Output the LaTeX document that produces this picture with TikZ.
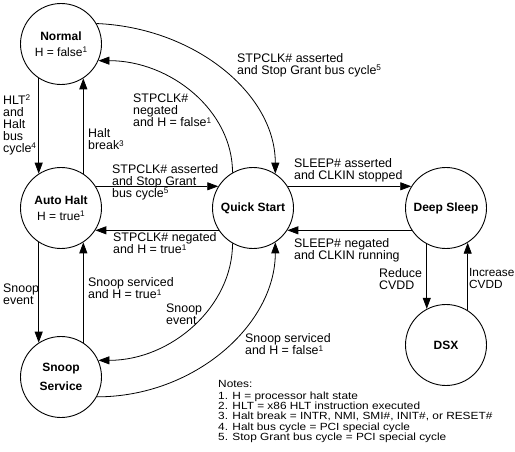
\documentclass[tikz,border=0pt]{standalone}
\usepackage{fontspec}
\setmainfont{Liberation Sans}
\newfontfamily\notefont{Liberation Sans}[FakeStretch=1.14]
\usetikzlibrary{arrows.meta}
\definecolor{ink}{HTML}{000000}
\definecolor{paper}{HTML}{FFFFFF}
\newcommand{\fnum}[1]{\raisebox{3.6pt}{\fontsize{8.2}{8.2}\selectfont#1}}

\begin{document}
\begin{tikzpicture}[x=1pt, y=-1pt, >={Triangle[length=11pt, width=8pt]},
  stnode/.style={circle, draw=ink, line width=0.9pt, minimum size=81pt, inner sep=0pt,
    align=center, font=\fontsize{12}{16}\selectfont},
  lbl/.style={anchor=north west, inner sep=0pt, align=left, text=ink,
    font=\fontsize{12.4}{12}\selectfont},
  link/.style={draw=ink, line width=0.8pt, ->}]

% Background
\fill[paper] (0,0) rectangle (515,452);
\useasboundingbox (0,0) rectangle (515,452);

% States
\node[stnode] (normal) at (61,44) {\textbf{Normal}\\H = false\fnum{1}};
\node[stnode] (autohalt) at (61,208) {\textbf{Auto Halt}\\H = true\fnum{1}};
\node[stnode, font=\fontsize{12}{19}\selectfont\bfseries] (snoop) at (61,377) {Snoop\\Service};
\node[stnode, font=\fontsize{12}{16}\selectfont\bfseries] (quick) at (253,208) {Quick Start};
\node[stnode, font=\fontsize{12}{16}\selectfont\bfseries] (deep) at (446,208) {Deep Sleep};
\node[stnode, font=\fontsize{12}{16}\selectfont\bfseries] (dsx) at (446,345) {DSX};

% Left column
\draw[link] (normal.-123) -- (autohalt.123);
\draw[link] (autohalt.57) -- (normal.-57);
\draw[link] (autohalt.-123) -- (snoop.123);
\draw[link] (snoop.57) -- (autohalt.-57);

% Horizontal transitions
\draw[link] (autohalt.32) -- (quick.148);
\draw[link] (quick.-147) -- (autohalt.-33);
\draw[link] (quick.32) -- (deep.148);
\draw[link] (deep.-147) -- (quick.-33);

% Deep Sleep <-> DSX
\draw[link] (deep.-118) -- (dsx.118);
\draw[link] (dsx.58) -- (deep.-58);

% Arcs to and from Quick Start
\draw[link] (quick.120) .. controls +(0,-62) and +(72,0) .. (normal.-24);
\draw[link] (normal.30) .. controls +(98,4) and +(0,-80) .. (quick.57);
\draw[link] (quick.-120) .. controls +(0,63) and +(73,0) .. (snoop.24);
\draw[link] (snoop.-29) .. controls +(98,0) and +(0,82) .. (quick.-57);

% Labels
\node[lbl] (lblhlt) at (3,95) {HLT\fnum{2}\\and\\Halt\\bus\\cycle\fnum{4}};
\node[lbl] (lblbreak) at (88,128.5) {Halt\\break\fnum{3}};
\node[lbl] (lblnegfalse) at (133,94) {STPCLK\#\\negated\\and H = false\fnum{1}};
\node[lbl] (lblasserted) at (112,164) {STPCLK\# asserted\\and Stop Grant\\bus cycle\fnum{5}};
\node[lbl] (lblnegtrue) at (113,232.5) {STPCLK\# negated\\and H = true\fnum{1}};
\node[lbl] (lblstopgrant) at (237,53) {STPCLK\# asserted\\and Stop Grant bus cycle\fnum{5}};
\node[lbl] (lblsleepon) at (294,158.5) {SLEEP\# asserted\\and CLKIN stopped};
\node[lbl] (lblsleepoff) at (294,238.5) {SLEEP\# negated\\and CLKIN running};
\node[lbl] (lblreduce) at (379,268.5) {Reduce\\CVDD};
\node[lbl, font=\fontsize{11.8}{12}\selectfont] (lblincrease) at (469,268.5) {Increase\\CVDD};
\node[lbl] (lblsnoopev) at (3,283.5) {Snoop\\event};
\node[lbl] (lblservtrue) at (88,277.5) {Snoop serviced\\and H = true\fnum{1}};
\node[lbl] (lblsnoopevb) at (166,303.5) {Snoop\\event};
\node[lbl] (lblservfalse) at (245,333.5) {Snoop serviced\\and H = false\fnum{1}};

% Notes
\node[lbl, font=\notefont\fontsize{10.4}{10.2}\selectfont] (notes) at (218,380)
  {Notes:\\[2pt]
   1. H = processor halt state\\
   2. HLT = x86 HLT instruction executed\\
   3. Halt break = INTR, NMI, SMI\#, INIT\#, or RESET\#\\
   4. Halt bus cycle = PCI special cycle\\
   5. Stop Grant bus cycle = PCI special cycle};

\end{tikzpicture}
\end{document}
